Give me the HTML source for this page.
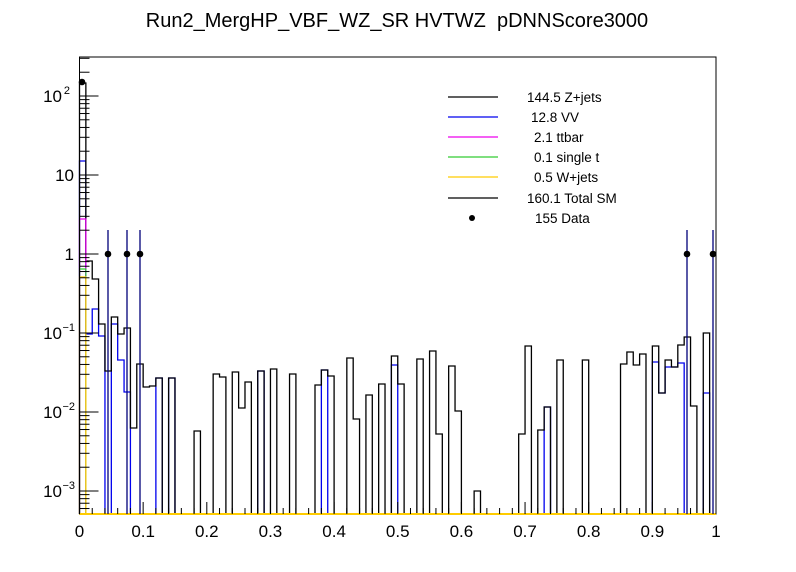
<!DOCTYPE html>
<html><head><meta charset="utf-8"><style>
body{margin:0;background:#fff;width:796px;height:572px;overflow:hidden}
svg{display:block;font-family:"Liberation Sans",Arial,sans-serif}
</style></head><body>
<svg id="s" width="796" height="572" xmlns="http://www.w3.org/2000/svg">
<rect width="796" height="572" fill="#fff"/>
<text x="397" y="27" font-size="20" text-anchor="middle">Run2_MergHP_VBF_WZ_SR HVTWZ&#160; pDNNScore3000</text>
</svg>
<script>
const s=document.getElementById('s');const NS='http://www.w3.org/2000/svg';
function el(t,a,txt){const e=document.createElementNS(NS,t);for(const k in a)e.setAttribute(k,a[k]);if(txt!==undefined)e.textContent=txt;s.appendChild(e);return e;}
const L=79.5,R=716,T=57,B=514,W=(R-L)/100;
const bx=i=>L+W*i;
const blk={0:83,1:261,2:279,3:324,4:371,5:317,6:334,7:328,8:428,9:364,10:387,11:386,12:378,14:378,18:431,21:374,22:377,24:372,25:408,26:382,28:371,30:369,33:374,37:385,38:370,39:376,42:358,43:419,45:395,47:384,49:356,50:384,53:359,55:351,56:434,58:366,59:411,62:491,69:434,70:346,72:430,73:407,75:360,79:360,85:364,86:352,87:365,88:354,90:346,91:393,92:360,93:367,94:345,95:337,96:406,98:333};
const blu={0:161,1:334,2:309,3:336,5:324,6:360,7:392,12:378,14:378,28:371,38:370,49:365,73:407,90:362,91:393,92:367,93:367,94:363,98:393};
function hist(d,col){let p='M'+L+' '+B;for(let i=0;i<100;i++){const y=d[i]!==undefined?d[i]:B;p+=' V'+y+' H'+bx(i+1).toFixed(2);}p+=' V'+B;el('path',{d:p,fill:'none',stroke:col,'stroke-width':1.3});}
hist(blu,'#0000ee');
hist(blk,'#000');
el('path',{d:`M${L} ${B} V219 H${bx(1)} V${B}`,fill:'none',stroke:'#ee00ee','stroke-width':1.2});
el('path',{d:`M${L} ${B} V269 H${bx(1)} V${B}`,fill:'none',stroke:'#33cc33','stroke-width':1.2});
el('path',{d:`M${L} ${B} V277 H${bx(1)} V${B}`,fill:'none',stroke:'#ffcc00','stroke-width':1.2});
el('rect',{x:L,y:T,width:R-L,height:B-T,fill:'none',stroke:'#000','stroke-width':1});
el('line',{x1:L,y1:B,x2:R,y2:B,stroke:'#ffcc00','stroke-width':2});
[[108,254],[127,254],[140,254],[687,254],[713,254]].forEach(([x,y])=>{el('line',{x1:x,y1:230,x2:x,y2:B,stroke:'#00007a','stroke-width':1.3});el('circle',{cx:x,cy:y,r:3.3,fill:'#000'});});
el('circle',{cx:82,cy:82,r:3.3,fill:'#000'});
const y0=254,dec=79;
for(let e=-4;e<=3;e++){for(let m=1;m<10;m++){const y=y0-dec*(e+Math.log10(m));if(y<T||y>B)continue;el('line',{x1:L,y1:y,x2:L+(m==1?19:10),y2:y,stroke:'#000','stroke-width':1});}}
const yl=[[2,'10','2'],[1,'10',''],[0,'1',''],[-1,'10','−1'],[-2,'10','−2'],[-3,'10','−3']];
yl.forEach(([e,b,sup])=>{const y=y0-dec*e+6;el('text',{x:sup?62:74,y:y,'font-size':17,'text-anchor':'end'},b);if(sup){el('text',{x:sup.length>1?75:70,y:y-8,'font-size':11,'text-anchor':'end'},sup);}});
for(let k=0;k<=50;k++){const x=L+(R-L)*k/50;el('line',{x1:x,y1:B,x2:x,y2:B-(k%5==0?12:6),stroke:'#000','stroke-width':1});}
for(let k=0;k<=10;k++){const x=L+(R-L)*k/10;el('text',{x:x,y:537,'font-size':17,'text-anchor':'middle'},k==0?'0':k==10?'1':(k/10).toFixed(1));}
const lg=[['#000',97,527,'144.5 Z+jets'],['#0000ee',117,531,'12.8 VV'],['#ee00ee',137,534,'2.1 ttbar'],['#33cc33',157,534,'0.1 single t'],['#ffcc00',177,534,'0.5 W+jets'],['#000',198,527,'160.1 Total SM']];
lg.forEach(([c,y,tx,t])=>{el('line',{x1:448,y1:y,x2:498,y2:y,stroke:c,'stroke-width':1.2});el('text',{x:tx,y:y+5,'font-size':13.5},t);});
el('circle',{cx:472,cy:218,r:3,fill:'#000'});el('text',{x:535,y:223,'font-size':13.5},'155 Data');
</script>
</body></html>
